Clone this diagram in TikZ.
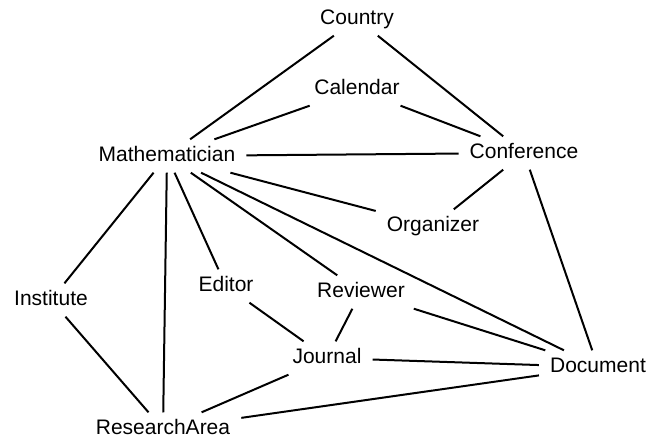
\documentclass[tikz,border=0pt]{standalone}
\usepackage{fontspec}
\setmainfont{Liberation Sans}
\begin{document}
\begin{tikzpicture}[x=1pt,y=-1pt,
  ent/.style={inner xsep=11pt,inner ysep=7pt,font=\fontsize{21}{24}\selectfont,text height=15pt,text depth=4pt,anchor=center},
  link/.style={line width=2pt,black}]
\useasboundingbox (0,0) rectangle (652,445);
\node[ent] (country) at (357,19) {Country};
\node[ent] (calendar) at (357,89) {Calendar};
\node[ent] (math) at (167,156) {Mathematician};
\node[ent] (conf) at (524,153) {Conference};
\node[ent] (org) at (433,226) {Organizer};
\node[ent] (inst) at (51,300) {Institute};
\node[ent] (editor) at (226,286) {Editor};
\node[ent] (rev) at (361,292) {Reviewer};
\node[ent] (journal) at (327,358) {Journal};
\node[ent] (doc) at (598,367) {Document};
\node[ent] (ra) at (163,429) {ResearchArea};
\draw[link] (country) -- (math);
\draw[link] (country) -- (conf);
\draw[link] (calendar) -- (math);
\draw[link] (calendar) -- (conf);
\draw[link] (math) -- (conf);
\draw[link] (math) -- (org);
\draw[link] (conf) -- (org);
\draw[link] (conf) -- (doc);
\draw[link] (math) -- (inst);
\draw[link] (math) -- (ra);
\draw[link] (math) -- (editor);
\draw[link] (math) -- (rev);
\draw[link] (math) -- (doc);
\draw[link] (inst) -- (ra);
\draw[link] (editor) -- (journal);
\draw[link] (rev) -- (journal);
\draw[link] (rev) -- (doc);
\draw[link] (journal) -- (doc);
\draw[link] (journal) -- (ra);
\draw[link] (ra) -- (doc);
\end{tikzpicture}
\end{document}
